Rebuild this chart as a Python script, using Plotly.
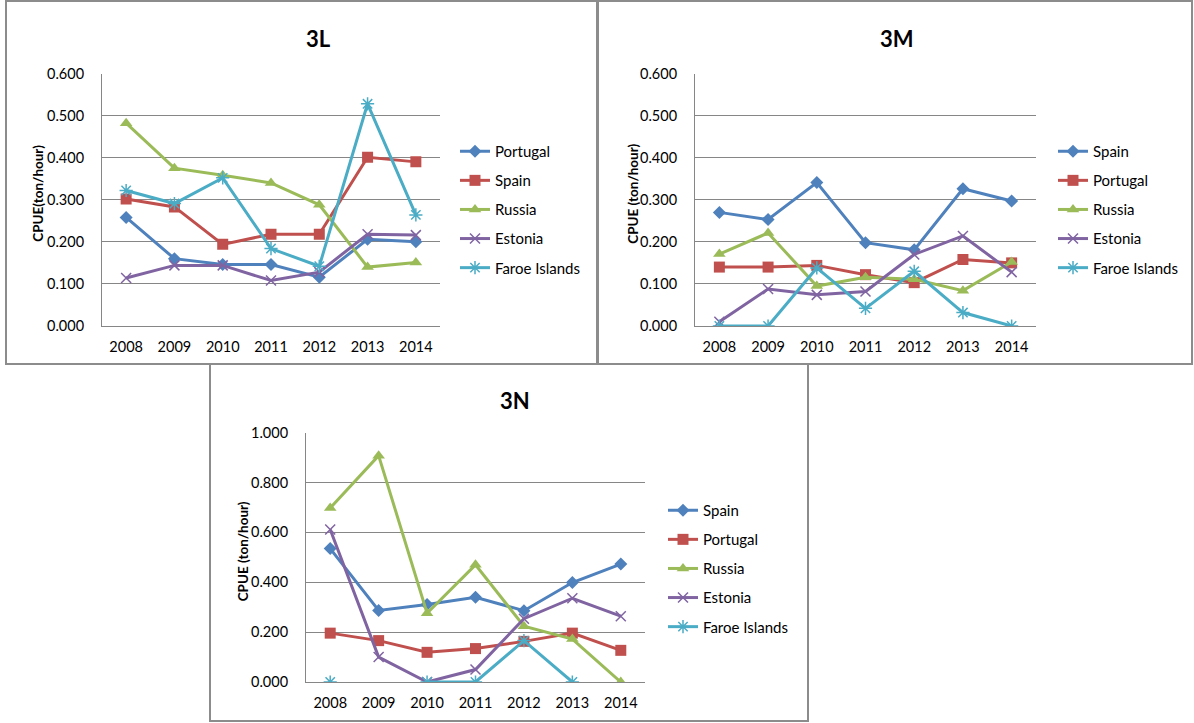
import plotly.graph_objects as go

W, H = 1194, 723

years = ["2008", "2009", "2010", "2011", "2012", "2013", "2014"]

# 3L
l_names = ["Portugal", "Spain", "Russia", "Estonia", "Faroe Islands"]
l_portugal = [0.258, 0.160, 0.146, 0.146, 0.116, 0.206, 0.200]
l_spain = [0.302, 0.283, 0.194, 0.218, 0.218, 0.401, 0.390]
l_russia = [0.482, 0.375, 0.358, 0.340, 0.288, 0.140, 0.151]
l_estonia = [0.114, 0.144, 0.144, 0.108, 0.128, 0.218, 0.216]
l_faroe = [0.322, 0.291, 0.352, 0.184, 0.142, 0.528, 0.264]

# 3M
m_names = ["Spain", "Portugal", "Russia", "Estonia", "Faroe Islands"]
m_spain = [0.270, 0.253, 0.341, 0.198, 0.181, 0.326, 0.297]
m_portugal = [0.140, 0.140, 0.144, 0.122, 0.103, 0.158, 0.150]
m_russia = [0.171, 0.221, 0.095, 0.116, 0.111, 0.084, 0.152]
m_estonia = [0.010, 0.088, 0.074, 0.082, 0.170, 0.214, 0.128]
m_faroe = [0.000, 0.000, 0.138, 0.042, 0.130, 0.032, 0.000]

# 3N
n_names = ["Spain", "Portugal", "Russia", "Estonia", "Faroe Islands"]
n_spain = [0.535, 0.287, 0.311, 0.340, 0.286, 0.399, 0.473]
n_portugal = [0.196, 0.166, 0.119, 0.134, 0.163, 0.196, 0.127]
n_russia = [0.698, 0.908, 0.276, 0.470, 0.224, 0.172, 0.000]
n_estonia = [0.612, 0.100, 0.000, 0.050, 0.254, 0.336, 0.264]
n_faroe = [0.000, None, 0.000, 0.000, 0.166, 0.000, None]

colors = ["#4F81BD", "#C0504D", "#9BBB59", "#8064A2", "#4BACC6"]
symbols = ["diamond", "square", "triangle-up", "x-thin-open", "asterisk-open"]
msizes = [10, 11, 11, 10, 11]

FONT = "Lato, 'Open Sans', sans-serif"
GRID = "#868686"


def px(x):
    return x / W


def py(y):
    return 1 - y / H


fig = go.Figure()

panels = [
    dict(key="L", names=l_names, data=[l_portugal, l_spain, l_russia, l_estonia, l_faroe],
         xd=(102, 440), yd=(73.5, 326), yr=(0, 0.6), dt=0.1, xa="x", ya="y", leg="legend",
         title="3L", tx=318, ty=38, ytitle="CPUE(ton/hour)", ytx=38,
         legx=455, legy=135),
    dict(key="M", names=m_names, data=[m_spain, m_portugal, m_russia, m_estonia, m_faroe],
         xd=(695, 1036), yd=(73.5, 326), yr=(0, 0.6), dt=0.1, xa="x2", ya="y2", leg="legend2",
         title="3M", tx=897, ty=38, ytitle="CPUE (ton/hour)", ytx=633,
         legx=1053, legy=135),
    dict(key="N", names=n_names, data=[n_spain, n_portugal, n_russia, n_estonia, n_faroe],
         xd=(306, 645), yd=(432.7, 682), yr=(0, 1.0), dt=0.2, xa="x3", ya="y3", leg="legend3",
         title="3N", tx=515, ty=400, ytitle="CPUE (ton/hour)", ytx=243,
         legx=663, legy=494),
]

layout_axes = {}
legends = {}
annotations = []

for p in panels:
    for i, (name, vals) in enumerate(zip(p["names"], p["data"])):
        fig.add_trace(go.Scatter(
            x=years, y=vals, name=name, mode="lines+markers",
            xaxis=p["xa"], yaxis=p["ya"], legend=p["leg"],
            legendgroup=p["key"] + name,
            connectgaps=False,
            line=dict(color=colors[i], width=3),
            marker=dict(symbol=symbols[i], size=msizes[i], color=colors[i],
                        line=dict(color=colors[i], width=1.5 if i >= 3 else 0)),
        ))
    xname = "xaxis" + p["xa"][1:]
    yname = "yaxis" + p["ya"][1:]
    layout_axes[xname] = dict(
        domain=[px(p["xd"][0]), px(p["xd"][1])], anchor=p["ya"],
        type="category", range=[-0.5, 6.5], showgrid=False,
        showline=True, linecolor=GRID, linewidth=1, ticks="",
        ticklabelstandoff=8, tickfont=dict(family=FONT, size=14.5, color="#000000"),
        zeroline=False, fixedrange=True, automargin=False,
    )
    layout_axes[yname] = dict(
        domain=[py(p["yd"][1]), py(p["yd"][0])], anchor=p["xa"],
        range=list(p["yr"]), dtick=p["dt"], tick0=0, tickformat=".3f",
        showgrid=True, gridcolor=GRID, gridwidth=1,
        showline=True, linecolor=GRID, linewidth=1, ticks="",
        ticklabelstandoff=14, tickfont=dict(family=FONT, size=14.5, color="#000000"),
        zeroline=False, fixedrange=True, automargin=False,
    )
    legends[p["leg"]] = dict(
        x=px(p["legx"]), y=py(p["legy"]), xanchor="left", yanchor="top",
        bgcolor="rgba(0,0,0,0)", font=dict(family=FONT, size=15, color="#000000"),
        traceorder="grouped", tracegroupgap=6.6, itemwidth=30,
    )
    annotations.append(dict(
        text="<b>%s</b>" % p["title"], x=px(p["tx"]), y=py(p["ty"]),
        xref="paper", yref="paper", showarrow=False, xanchor="center", yanchor="middle",
        font=dict(family=FONT, size=22, color="#000000"),
    ))
    annotations.append(dict(
        text="<b>%s</b>" % p["ytitle"], x=px(p["ytx"]), y=py((p["yd"][0] + p["yd"][1]) / 2 - 6),
        xref="paper", yref="paper", showarrow=False, xanchor="center", yanchor="middle",
        textangle=-90, font=dict(family=FONT, size=13.5, color="#000000"),
    ))

shapes = []
for (x0, y0, x1, y1) in [(6, 1, 597, 364), (598, 1, 1192, 364), (210, 364, 808, 721)]:
    shapes.append(dict(type="rect", xref="paper", yref="paper",
                       x0=px(x0), x1=px(x1), y0=py(y1), y1=py(y0),
                       line=dict(color="#8C8C8C", width=2), fillcolor="rgba(0,0,0,0)"))

fig.update_layout(
    width=W, height=H, margin=dict(l=0, r=0, t=0, b=0, pad=0, autoexpand=False),
    paper_bgcolor="white", plot_bgcolor="white",
    annotations=annotations, shapes=shapes,
    **layout_axes, **legends,
)

fig.write_html("out.html", config={"displayModeBar": False})
